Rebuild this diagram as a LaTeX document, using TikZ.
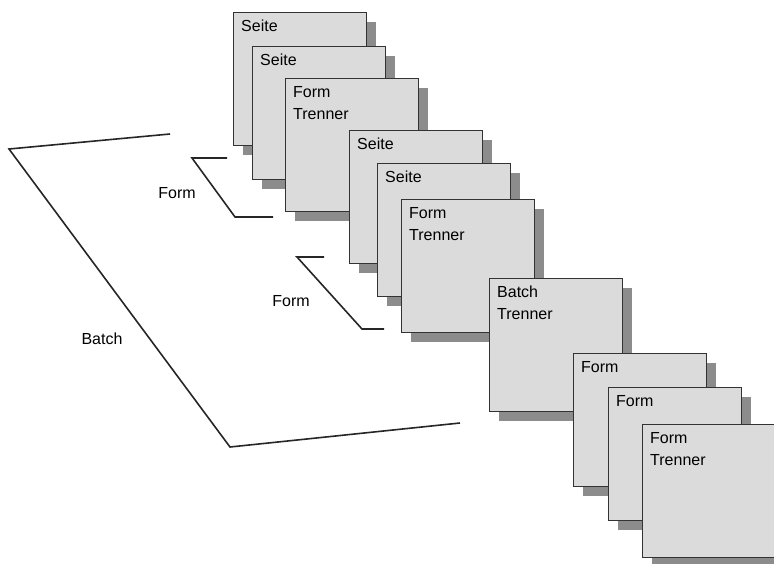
\documentclass[tikz,border=0pt]{standalone}
\usepackage{fontspec}
\setmainfont{Liberation Sans}
\usetikzlibrary{shadows}
\tikzset{
  page/.style={draw=black!80, line width=1.2pt, fill=gray!28, anchor=north west,
    minimum width=133pt, minimum height=133pt, inner sep=0pt,
    drop shadow={shadow xshift=9pt, shadow yshift=-9pt, fill=gray!90, opacity=1}},
  pagetext/.style={anchor=north west, inner sep=0pt, xshift=8pt, yshift=-8pt,
    align=left, font=\fontsize{16}{22}\selectfont},
  bracket/.style={draw=black!85, line width=1.6pt},
  brlabel/.style={font=\fontsize{16}{22}\selectfont}
}
\begin{document}
\begin{tikzpicture}[x=1pt, y=-1pt]
 \useasboundingbox (0,0) rectangle (774,563);
 % first form
 \node[page, label={[pagetext]north west:Seite}] (s1) at (233,12) {};
 \node[page, label={[pagetext]north west:Seite}] (s2) at (252,46) {};
 \node[page, label={[pagetext]north west:Form\\Trenner}] (ft1) at (285,78) {};
 % second form
 \node[page, label={[pagetext]north west:Seite}] (s3) at (349,130) {};
 \node[page, label={[pagetext]north west:Seite}] (s4) at (377,163) {};
 \node[page, label={[pagetext]north west:Form\\Trenner}] (ft2) at (401,199) {};
 % end of batch
 \node[page, label={[pagetext]north west:Batch\\Trenner}] (bt) at (489,278) {};
 \node[page, label={[pagetext]north west:Form}] (f1) at (573,353) {};
 \node[page, label={[pagetext]north west:Form}] (f2) at (608,387) {};
 \node[page, label={[pagetext]north west:Form\\Trenner}] (ft3) at (642,424) {};
 % brackets
 \draw[bracket] (227,158) -- (192,158) -- (235,217) -- (273,217);
 \draw[bracket] (324,257) -- (297,257) -- (362,329) -- (384,329);
 \draw[bracket] (170,134) -- (9,149) -- (230,447) -- (460,423);
 \node[brlabel] (lform1) at (177,193) {Form};
 \node[brlabel] (lform2) at (291,301) {Form};
 \node[brlabel] (lbatch) at (102,339) {Batch};
\end{tikzpicture}
\end{document}
